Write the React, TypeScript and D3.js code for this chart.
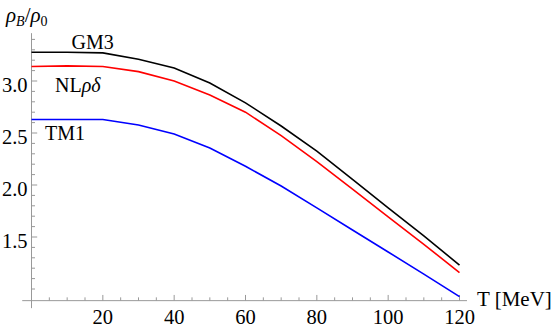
import React from "react";
import * as d3 from "d3";

// temperature grid (MeV)
const temps = [0, 10, 20, 30, 40, 50, 60, 70, 80, 90, 100, 110, 120];

// rho_B / rho_0 for each model
const gm3 = [3.276, 3.276, 3.27, 3.21, 3.126, 2.98, 2.79, 2.567, 2.325, 2.053, 1.78, 1.51, 1.23];
const nlrd = [3.14, 3.145, 3.14, 3.09, 3.0, 2.865, 2.7, 2.475, 2.225, 1.96, 1.694, 1.43, 1.157];
const tm1 = [2.63, 2.63, 2.63, 2.577, 2.49, 2.356, 2.18, 1.99, 1.78, 1.567, 1.356, 1.143, 0.926];

const xMajor = [20, 40, 60, 80, 100, 120];
const yMajor = [1.5, 2.0, 2.5, 3.0];

const W = 556;
const H = 329;
const font = "'Liberation Serif', 'Times New Roman', serif";

const App = () => {
  const x = d3.scaleLinear().domain([0, 120]).range([31.5, 459.5]);
  const y = d3.scaleLinear().domain([2, 3]).range([185, 81]);

  const axisY = y(0.888); // where the T axis crosses
  const axisX = x(0);

  const xMinor = d3.range(5, 121, 5).filter((t) => !xMajor.includes(t));
  const yMinor = d3.range(10, 35).map((v) => v / 10).filter((v) => !yMajor.some((m) => Math.abs(m - v) < 1e-6));

  const line = d3
    .line<number>()
    .x((_, i) => x(temps[i]))
    .y((d) => y(d));

  const series = [
    { name: "GM3", values: gm3, color: "#000000" },
    { name: "NLrd", values: nlrd, color: "#ff0000" },
    { name: "TM1", values: tm1, color: "#0000ff" },
  ];

  const axisColor = "#999999";

  return (
    <svg
      width={W}
      height={H}
      style={{ position: "absolute", left: 0, top: 0, background: "#fff" }}
      fontFamily={font}
    >
      {/* axes */}
      <line x1={x(-2.6)} x2={x(122.1)} y1={axisY} y2={axisY} stroke={axisColor} strokeWidth={1} />
      <line x1={axisX} x2={axisX} y1={y(3.46)} y2={axisY + 7.5} stroke={axisColor} strokeWidth={1} />

      {xMinor.map((t) => (
        <line key={"xm" + t} x1={x(t)} x2={x(t)} y1={axisY} y2={axisY - 3.3} stroke={axisColor} />
      ))}
      {xMajor.map((t) => (
        <g key={"xM" + t}>
          <line x1={x(t)} x2={x(t)} y1={axisY} y2={axisY - 5.7} stroke={axisColor} />
          <text x={x(t)} y={324} textAnchor="middle" fontSize={20.5} fill="#000">
            {t}
          </text>
        </g>
      ))}

      {yMinor.map((v) => (
        <line key={"ym" + v} x1={axisX} x2={axisX + 3.5} y1={y(v)} y2={y(v)} stroke={axisColor} />
      ))}
      {yMajor.map((v) => (
        <g key={"yM" + v}>
          <line x1={axisX} x2={axisX + 5.7} y1={y(v)} y2={y(v)} stroke={axisColor} />
          <text x={27.5} y={y(v) + 11} textAnchor="end" fontSize={20.5} fill="#000">
            {v.toFixed(1)}
          </text>
        </g>
      ))}

      {/* curves */}
      {series.map((s) => (
        <path key={s.name} d={line(s.values) ?? ""} fill="none" stroke={s.color} strokeWidth={1.6} />
      ))}

      {/* axis labels */}
      <text x={6} y={22} fontSize={21} fill="#000">
        <tspan fontStyle="italic">ρ</tspan>
        <tspan fontStyle="italic" fontSize={14} dy={4}>B</tspan>
        <tspan dy={-4}>/</tspan>
        <tspan fontStyle="italic">ρ</tspan>
        <tspan fontSize={14} dy={4}>0</tspan>
      </text>
      <text x={477} y={305.5} fontSize={21} fill="#000">
        T [MeV]
      </text>

      {/* curve labels */}
      <text x={71.5} y={49} fontSize={20} fill="#000">
        GM3
      </text>
      <text x={55} y={91.5} fontSize={20} fill="#000">
        NL<tspan fontStyle="italic">ρδ</tspan>
      </text>
      <text x={45} y={140} fontSize={20} fill="#000">
        TM1
      </text>
    </svg>
  );
};

export default App;
